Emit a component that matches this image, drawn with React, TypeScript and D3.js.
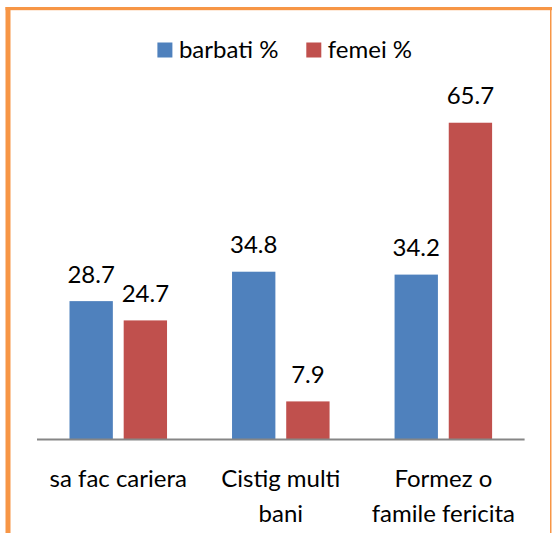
import { useEffect, useRef } from 'react'
import * as d3 from 'd3'

// chart data
const categories = ['sa fac cariera', 'Cistig multi bani', 'Formez o famile fericita']
const categoryLines = [['sa fac cariera'], ['Cistig multi', 'bani'], ['Formez o', 'famile fericita']]
const seriesNames = ['barbati %', 'femei %']
const barbati = [28.7, 34.8, 34.2]
const femei = [24.7, 7.9, 65.7]
const seriesColors = ['#4F81BD', '#C0504D']

export default function App() {
  const svgRef = useRef<SVGSVGElement | null>(null)

  useEffect(() => {
    document.body.style.margin = '0'
    if (!svgRef.current) return
    const W = 552, H = 533
    const svg = d3.select(svgRef.current)
    svg.selectAll('*').remove()
    svg.attr('width', W).attr('height', H)

    const font = "Lato, 'Liberation Sans', sans-serif"

    // orange frame
    svg.append('rect').attr('x', 0).attr('y', 0).attr('width', W).attr('height', H).attr('fill', '#fff')
    svg.append('rect').attr('x', 5.5).attr('y', 7).attr('width', W - 5.5).attr('height', 3.2).attr('fill', '#F79646')
    svg.append('rect').attr('x', 5.5).attr('y', 7).attr('width', 5).attr('height', H - 7).attr('fill', '#F79646')
    svg.append('rect').attr('x', 550).attr('y', 7).attr('width', 1.5).attr('height', H - 7).attr('fill', '#F79646')

    const baseY = 439.5
    const x0 = d3.scaleBand<string>().domain(categories).range([37, 524.6]).padding(0)
    const x1 = d3.scaleBand<string>().domain(seriesNames).range([32.5, x0.bandwidth() - 32.5]).paddingInner(0.2)
    const y = d3.scaleLinear().domain([0, 70]).range([baseY, 102])

    const data = categories.map((c, i) => ({
      c,
      vals: [barbati[i], femei[i]].map((v, j) => ({ s: seriesNames[j], v, color: seriesColors[j] })),
    }))

    const g = svg.append('g')
    const groups = g.selectAll('g.grp').data(data).join('g')
      .attr('class', 'grp')
      .attr('transform', d => `translate(${x0(d.c)},0)`)

    groups.selectAll('rect').data(d => d.vals).join('rect')
      .attr('x', d => x1(d.s)!)
      .attr('y', d => y(d.v))
      .attr('width', x1.bandwidth())
      .attr('height', d => baseY - y(d.v))
      .attr('fill', d => d.color)

    groups.selectAll('text.val').data(d => d.vals).join('text')
      .attr('class', 'val')
      .attr('x', d => x1(d.s)! + x1.bandwidth() / 2)
      .attr('y', d => y(d.v) - 18.5)
      .attr('text-anchor', 'middle')
      .attr('font-family', font)
      .attr('font-size', 24)
      .attr('fill', '#000')
      .text(d => d.v.toFixed(1))

    // axis line
    svg.append('line')
      .attr('x1', 37).attr('x2', 524.6)
      .attr('y1', baseY).attr('y2', baseY)
      .attr('stroke', '#868686').attr('stroke-width', 2)

    // category labels
    categories.forEach((c, i) => {
      const t = svg.append('text')
        .attr('text-anchor', 'middle')
        .attr('font-family', font)
        .attr('font-size', 24)
        .attr('fill', '#000')
      categoryLines[i].forEach((line, k) => {
        t.append('tspan')
          .attr('x', x0(c)! + x0.bandwidth() / 2)
          .attr('y', 487 + k * 34.5)
          .text(line)
      })
    })

    // legend
    const legendItems = [
      { name: seriesNames[0], color: seriesColors[0], x: 157.4 },
      { name: seriesNames[1], color: seriesColors[1], x: 306.3 },
    ]
    legendItems.forEach(it => {
      svg.append('rect').attr('x', it.x).attr('y', 42.5).attr('width', 15).attr('height', 15).attr('fill', it.color)
      svg.append('text')
        .attr('x', it.x + 21.5).attr('y', 58)
        .attr('font-family', font).attr('font-size', 24).attr('fill', '#000')
        .text(it.name)
    })
  }, [])

  return <svg ref={svgRef} style={{ display: 'block' }} />
}
